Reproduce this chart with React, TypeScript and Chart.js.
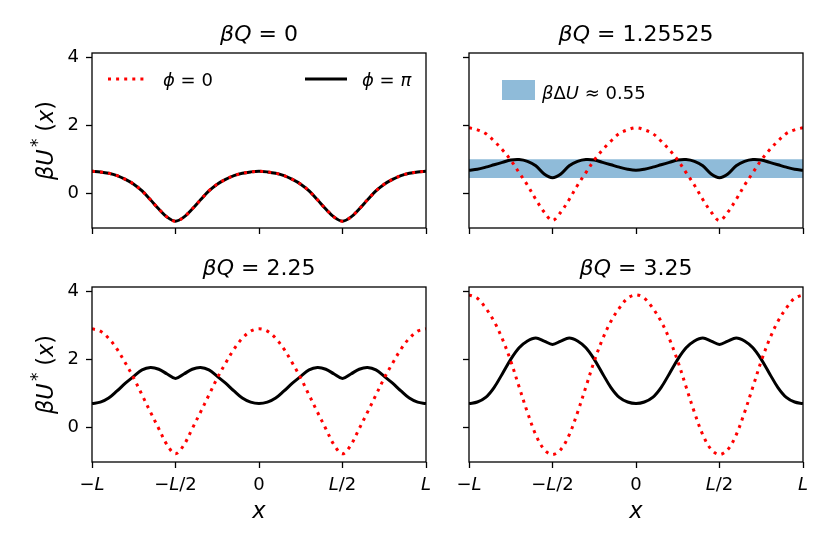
import { useEffect, useRef } from "react";
import { Chart, registerables } from "chart.js";

Chart.register(...registerables);

const FONT = '"DejaVu Sans", sans-serif';

// positions along the box, in units of L
const xs = [
  -1, -0.95, -0.9, -0.85, -0.8, -0.75, -0.7, -0.65, -0.6, -0.55, -0.5, -0.45, -0.4, -0.35, -0.3, -0.25, -0.2, -0.15,
  -0.1, -0.05, 0, 0.05, 0.1, 0.15, 0.2, 0.25, 0.3, 0.35, 0.4, 0.45, 0.5, 0.55, 0.6, 0.65, 0.7, 0.75, 0.8, 0.85, 0.9,
  0.95, 1,
];

// beta*Q = 0 (both phases give the same curve)
const q0Phi0 = [
  0.65, 0.63, 0.59, 0.52, 0.41, 0.27, 0.07, -0.19, -0.46, -0.7, -0.82, -0.7, -0.46, -0.19, 0.07, 0.27, 0.41, 0.52,
  0.59, 0.63, 0.65, 0.63, 0.59, 0.52, 0.41, 0.27, 0.07, -0.19, -0.46, -0.7, -0.82, -0.7, -0.46, -0.19, 0.07, 0.27,
  0.41, 0.52, 0.59, 0.63, 0.65,
];
const q0PhiPi = [
  0.65, 0.63, 0.59, 0.52, 0.41, 0.27, 0.07, -0.19, -0.46, -0.7, -0.82, -0.7, -0.46, -0.19, 0.07, 0.27, 0.41, 0.52,
  0.59, 0.63, 0.65, 0.63, 0.59, 0.52, 0.41, 0.27, 0.07, -0.19, -0.46, -0.7, -0.82, -0.7, -0.46, -0.19, 0.07, 0.27,
  0.41, 0.52, 0.59, 0.63, 0.65,
];

// beta*Q = 1.25525
const q1Phi0 = [
  1.93, 1.87, 1.76, 1.54, 1.28, 0.98, 0.61, 0.24, -0.18, -0.55, -0.8, -0.55, -0.18, 0.24, 0.61, 0.98, 1.28, 1.54, 1.76,
  1.87, 1.93, 1.87, 1.76, 1.54, 1.28, 0.98, 0.61, 0.24, -0.18, -0.55, -0.8, -0.55, -0.18, 0.24, 0.61, 0.98, 1.28, 1.54,
  1.76, 1.87, 1.93,
];
const q1PhiPi = [
  0.68, 0.71, 0.77, 0.84, 0.91, 0.98, 0.995, 0.94, 0.81, 0.57, 0.46, 0.57, 0.81, 0.94, 0.995, 0.98, 0.91, 0.84, 0.77,
  0.71, 0.68, 0.71, 0.77, 0.84, 0.91, 0.98, 0.995, 0.94, 0.81, 0.57, 0.46, 0.57, 0.81, 0.94, 0.995, 0.98, 0.91, 0.84,
  0.77, 0.71, 0.68,
];

// beta*Q = 2.25
const q2Phi0 = [
  2.9, 2.83, 2.62, 2.3, 1.89, 1.45, 0.95, 0.45, -0.04, -0.52, -0.78, -0.52, -0.04, 0.45, 0.95, 1.45, 1.89, 2.3, 2.62,
  2.83, 2.9, 2.83, 2.62, 2.3, 1.89, 1.45, 0.95, 0.45, -0.04, -0.52, -0.78, -0.52, -0.04, 0.45, 0.95, 1.45, 1.89, 2.3,
  2.62, 2.83, 2.9,
];
const q2PhiPi = [
  0.7, 0.74, 0.86, 1.07, 1.3, 1.5, 1.69, 1.76, 1.71, 1.57, 1.44, 1.57, 1.71, 1.76, 1.69, 1.5, 1.3, 1.07, 0.86, 0.74,
  0.7, 0.74, 0.86, 1.07, 1.3, 1.5, 1.69, 1.76, 1.71, 1.57, 1.44, 1.57, 1.71, 1.76, 1.69, 1.5, 1.3, 1.07, 0.86, 0.74,
  0.7,
];

// beta*Q = 3.25
const q3Phi0 = [
  3.9, 3.8, 3.51, 3.12, 2.6, 1.95, 1.19, 0.44, -0.22, -0.65, -0.8, -0.65, -0.22, 0.44, 1.19, 1.95, 2.6, 3.12, 3.51,
  3.8, 3.9, 3.8, 3.51, 3.12, 2.6, 1.95, 1.19, 0.44, -0.22, -0.65, -0.8, -0.65, -0.22, 0.44, 1.19, 1.95, 2.6, 3.12,
  3.51, 3.8, 3.9,
];
const q3PhiPi = [
  0.7, 0.745, 0.88, 1.17, 1.58, 2.0, 2.34, 2.54, 2.63, 2.54, 2.44, 2.54, 2.63, 2.54, 2.34, 2.0, 1.58, 1.17, 0.88,
  0.745, 0.7, 0.745, 0.88, 1.17, 1.58, 2.0, 2.34, 2.54, 2.63, 2.54, 2.44, 2.54, 2.63, 2.54, 2.34, 2.0, 1.58, 1.17,
  0.88, 0.745, 0.7,
];

// shaded barrier band in the beta*Q = 1.25525 panel
const bandLow = 0.45;
const bandHigh = 1.0;

const xTickValues = [-1, -0.5, 0, 0.5, 1];
const yTickValues = [0, 2, 4];
const yMin = -1.02;
const yMax = 4.13;

type Run = { t: string; it?: boolean; sc?: number; dy?: number; gap?: number };

const xTickLabels: Run[][] = [
  [{ t: "−" }, { t: "L", it: true }],
  [{ t: "−" }, { t: "L", it: true }, { t: "/2" }],
  [{ t: "0" }],
  [{ t: "L", it: true }, { t: "/2" }],
  [{ t: "L", it: true }],
];

const titleText = (q: string): Run[] => [{ t: "β", it: true }, { t: "Q", it: true }, { t: " = " }, { t: q }];
const yLabel: Run[] = [
  { t: "β", it: true },
  { t: "U", it: true },
  { t: "*", sc: 0.75, dy: 0.42, gap: 0.1 },
  { t: "(", gap: 0.3 },
  { t: "x", it: true },
  { t: ")" },
];
const xLabel: Run[] = [{ t: "x", it: true }];
const legendPhi0: Run[] = [{ t: "ϕ", it: true }, { t: " = 0" }];
const legendPhiPi: Run[] = [{ t: "ϕ", it: true }, { t: " = " }, { t: "π", it: true }];
const legendBand: Run[] = [{ t: "β", it: true }, { t: "Δ" }, { t: "U", it: true }, { t: " ≈ 0.55" }];

function setFont(ctx: CanvasRenderingContext2D, size: number, it?: boolean) {
  ctx.font = `${it ? "italic " : ""}${size}px ${FONT}`;
}

function runsWidth(ctx: CanvasRenderingContext2D, runs: Run[], size: number) {
  let w = 0;
  for (const r of runs) {
    setFont(ctx, size * (r.sc ?? 1), r.it);
    w += (r.gap ?? 0) * size + ctx.measureText(r.t).width;
  }
  return w;
}

function drawRuns(
  ctx: CanvasRenderingContext2D,
  runs: Run[],
  x: number,
  y: number,
  size: number,
  align: "left" | "center" = "left"
) {
  let cx = align === "center" ? x - runsWidth(ctx, runs, size) / 2 : x;
  ctx.textAlign = "left";
  ctx.textBaseline = "alphabetic";
  ctx.fillStyle = "#000";
  for (const r of runs) {
    setFont(ctx, size * (r.sc ?? 1), r.it);
    cx += (r.gap ?? 0) * size;
    ctx.fillText(r.t, cx, y - (r.dy ?? 0) * size);
    cx += ctx.measureText(r.t).width;
  }
}

interface PanelSpec {
  title: string;
  phi0: number[];
  phiPi: number[];
  left: number;
  top: number;
  w: number;
  h: number;
  padTop: number;
  padRight: number;
  yAxisW: number;
  xAxisH: number;
  showY: boolean;
  showX: boolean;
  legend: "phi" | "band" | null;
}

const panels: PanelSpec[] = [
  { title: "0", phi0: q0Phi0, phiPi: q0PhiPi, left: 0, top: 0, w: 440, h: 250, padTop: 53, padRight: 14, yAxisW: 92, xAxisH: 22, showY: true, showX: false, legend: "phi" },
  { title: "1.25525", phi0: q1Phi0, phiPi: q1PhiPi, left: 440, top: 0, w: 390, h: 250, padTop: 53, padRight: 27, yAxisW: 29, xAxisH: 22, showY: false, showX: false, legend: "band" },
  { title: "2.25", phi0: q2Phi0, phiPi: q2PhiPi, left: 0, top: 250, w: 440, h: 304, padTop: 37, padRight: 14, yAxisW: 92, xAxisH: 92, showY: true, showX: true, legend: null },
  { title: "3.25", phi0: q3Phi0, phiPi: q3PhiPi, left: 440, top: 250, w: 390, h: 304, padTop: 37, padRight: 27, yAxisW: 29, xAxisH: 92, showY: false, showX: true, legend: null },
];

const RED = "#ff0000";
const DOTS = [3, 5.1];
const LW = 3;
const TITLE_SIZE = 22;
const LABEL_SIZE = 22.5;
const TICK_SIZE = 18;

function makeDecor(p: PanelSpec) {
  return {
    id: "decor",
    afterDatasetsDraw(chart: Chart) {
      const ctx = chart.ctx;
      const ca = chart.chartArea;
      const xScale = chart.scales.x;
      ctx.save();

      // frame
      ctx.strokeStyle = "#000";
      ctx.lineWidth = 1.3;
      ctx.setLineDash([]);
      ctx.strokeRect(ca.left, ca.top, ca.right - ca.left, ca.bottom - ca.top);

      // title
      drawRuns(ctx, titleText(p.title), (ca.left + ca.right) / 2, ca.top - 12.5, TITLE_SIZE, "center");

      // y label
      if (p.showY) {
        ctx.save();
        ctx.translate(ca.left - 39.5, (ca.top + ca.bottom) / 2);
        ctx.rotate(-Math.PI / 2);
        drawRuns(ctx, yLabel, 0, 0, LABEL_SIZE, "center");
        ctx.restore();
      }

      // x tick labels and label
      if (p.showX) {
        xTickValues.forEach((v, i) => {
          drawRuns(ctx, xTickLabels[i], xScale.getPixelForValue(v), ca.bottom + 27.5, TICK_SIZE, "center");
        });
        drawRuns(ctx, xLabel, (ca.left + ca.right) / 2, ca.bottom + 56, LABEL_SIZE, "center");
      }

      // legends
      if (p.legend === "phi") {
        const y = ca.top + 26;
        ctx.lineWidth = LW;
        ctx.lineCap = "butt";
        ctx.strokeStyle = RED;
        ctx.setLineDash(DOTS);
        ctx.beginPath();
        ctx.moveTo(ca.left + 16, y);
        ctx.lineTo(ca.left + 55, y);
        ctx.stroke();
        ctx.strokeStyle = "#000";
        ctx.setLineDash([]);
        ctx.beginPath();
        ctx.moveTo(ca.left + 213, y);
        ctx.lineTo(ca.left + 255, y);
        ctx.stroke();
        drawRuns(ctx, legendPhi0, ca.left + 71, ca.top + 33, TICK_SIZE);
        drawRuns(ctx, legendPhiPi, ca.left + 270, ca.top + 33, TICK_SIZE);
      } else if (p.legend === "band") {
        ctx.fillStyle = "rgba(31,119,180,0.5)";
        ctx.fillRect(ca.left + 33, ca.top + 27, 33, 20);
        drawRuns(ctx, legendBand, ca.left + 73, ca.top + 45.5, TICK_SIZE);
      }
      ctx.restore();
    },
  };
}

const App = () => {
  const canvasRefs = useRef<(HTMLCanvasElement | null)[]>([]);

  useEffect(() => {
    const charts: Chart[] = [];
    panels.forEach((p, idx) => {
      const canvas = canvasRefs.current[idx];
      if (!canvas) return;

      const datasets: any[] = [
        {
          data: xs.map((x, i) => ({ x, y: p.phi0[i] })),
          borderColor: RED,
          borderWidth: LW,
          borderDash: DOTS,
          borderCapStyle: "butt",
          tension: 0.35,
          fill: false,
        },
        {
          data: xs.map((x, i) => ({ x, y: p.phiPi[i] })),
          borderColor: "#000",
          borderWidth: LW,
          tension: 0.35,
          fill: false,
        },
      ];
      if (p.legend === "band") {
        datasets.push({
          data: [
            { x: -1, y: bandHigh },
            { x: 1, y: bandHigh },
          ],
          borderWidth: 0,
          borderColor: "rgba(0,0,0,0)",
          backgroundColor: "rgba(31,119,180,0.5)",
          fill: { value: bandLow },
        });
      }

      const tickGrid = {
        display: true,
        drawOnChartArea: false,
        drawTicks: true,
        tickLength: 6,
        tickWidth: 1.3,
        tickColor: "#000",
        color: "#000",
      };

      charts.push(
        new Chart(canvas, {
          type: "line",
          data: { datasets },
          options: {
            animation: false,
            responsive: false,
            events: [],
            layout: { padding: { left: 0, right: p.padRight, top: p.padTop, bottom: 0 } },
            elements: { point: { radius: 0 } },
            plugins: {
              legend: { display: false },
              title: { display: false },
              tooltip: { enabled: false },
            },
            scales: {
              x: {
                type: "linear",
                min: -1,
                max: 1,
                afterBuildTicks: (s: any) => {
                  s.ticks = xTickValues.map((value) => ({ value }));
                },
                afterFit: (s: any) => {
                  s.height = p.xAxisH;
                },
                ticks: { display: false },
                grid: tickGrid,
                border: { display: false },
              },
              y: {
                type: "linear",
                min: yMin,
                max: yMax,
                afterBuildTicks: (s: any) => {
                  s.ticks = yTickValues.map((value) => ({ value }));
                },
                afterFit: (s: any) => {
                  s.width = p.yAxisW;
                },
                ticks: {
                  display: p.showY,
                  color: "#000",
                  padding: 7,
                  font: { family: FONT, size: TICK_SIZE },
                },
                grid: tickGrid,
                border: { display: false },
              },
            },
          },
          plugins: [makeDecor(p)],
        })
      );
    });

    return () => {
      charts.forEach((c) => c.destroy());
    };
  }, []);

  return (
    <div style={{ position: "fixed", left: 0, top: 0, width: 830, height: 554, background: "#fff" }}>
      {panels.map((p, i) => (
        <canvas
          key={i}
          ref={(el) => {
            canvasRefs.current[i] = el;
          }}
          width={p.w}
          height={p.h}
          style={{ position: "absolute", left: p.left, top: p.top, width: p.w, height: p.h }}
        />
      ))}
    </div>
  );
};

export default App;
